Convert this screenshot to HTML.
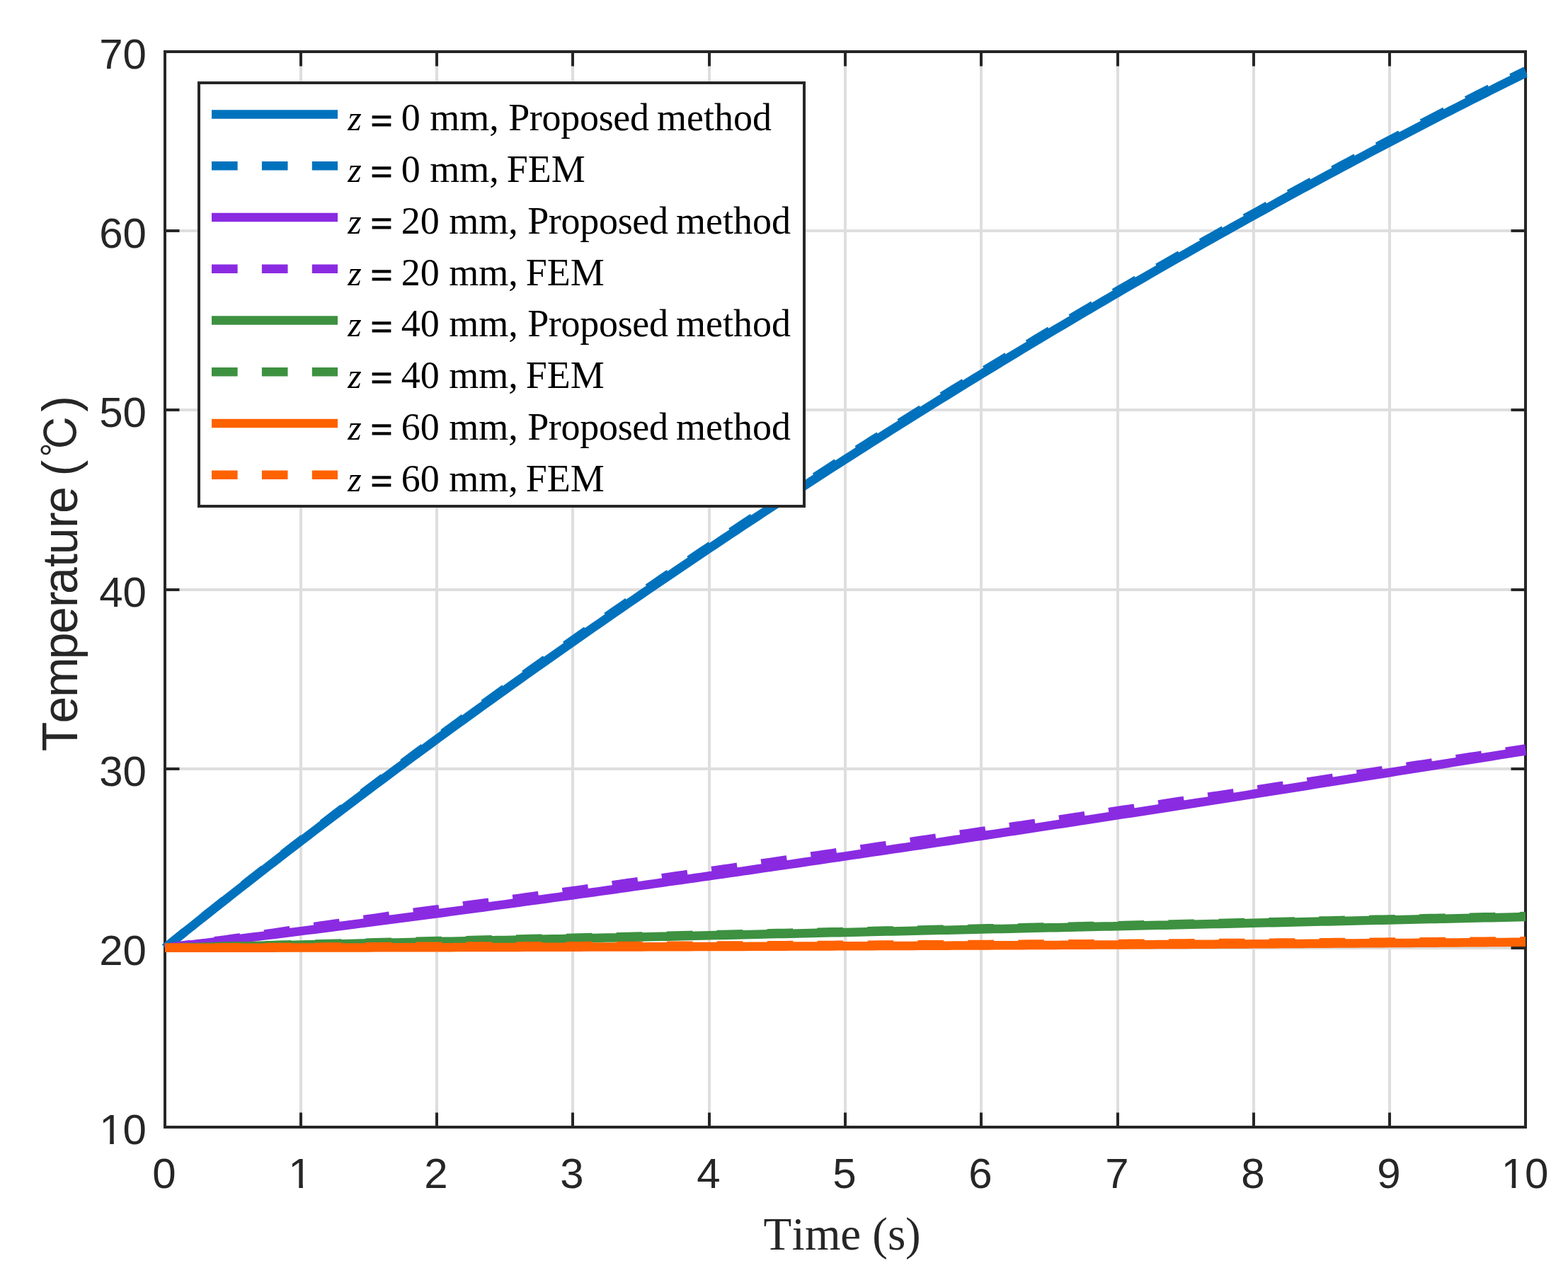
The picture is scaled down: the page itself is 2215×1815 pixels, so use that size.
<!DOCTYPE html>
<html><head><meta charset="utf-8"><title>Temperature vs Time</title>
<style>html,body{margin:0;padding:0;background:#fff;width:2215px;height:1815px;overflow:hidden}</style>
</head><body>
<svg width="2215" height="1815" viewBox="0 0 2215 1815" style="position:absolute;left:0;top:0">
<rect x="0" y="0" width="2215" height="1815" fill="#ffffff"/>
<path d="M425 73.0V1592.0M617 73.0V1592.0M809 73.0V1592.0M1002 73.0V1592.0M1194 73.0V1592.0M1386 73.0V1592.0M1579 73.0V1592.0M1771 73.0V1592.0M1963 73.0V1592.0M233.0 326H2155.0M233.0 579H2155.0M233.0 833H2155.0M233.0 1086H2155.0M233.0 1339H2155.0" stroke="#DEDEDE" stroke-width="4" fill="none"/>
<path d="M425 1592.0v-20.5M425 73.0v20.5M617 1592.0v-20.5M617 73.0v20.5M809 1592.0v-20.5M809 73.0v20.5M1002 1592.0v-20.5M1002 73.0v20.5M1194 1592.0v-20.5M1194 73.0v20.5M1386 1592.0v-20.5M1386 73.0v20.5M1579 1592.0v-20.5M1579 73.0v20.5M1771 1592.0v-20.5M1771 73.0v20.5M1963 1592.0v-20.5M1963 73.0v20.5M233.0 326h20.5M2155.0 326h-20.5M233.0 579h20.5M2155.0 579h-20.5M233.0 833h20.5M2155.0 833h-20.5M233.0 1086h20.5M2155.0 1086h-20.5M233.0 1339h20.5M2155.0 1339h-20.5" stroke="#262626" stroke-width="4" fill="none"/>
<rect x="233.0" y="73.0" width="1922.0" height="1519.0" stroke="#262626" stroke-width="4" fill="none"/>
<path d="M233.00 1338.83 L242.61 1331.11 L252.22 1323.40 L261.83 1315.71 L271.44 1308.05 L281.05 1300.40 L290.66 1292.76 L300.27 1285.15 L309.88 1277.56 L319.49 1269.98 L329.10 1262.43 L338.71 1254.89 L348.32 1247.37 L357.93 1239.87 L367.54 1232.38 L377.15 1224.92 L386.76 1217.47 L396.37 1210.04 L405.98 1202.63 L415.59 1195.24 L425.20 1187.86 L434.81 1180.50 L444.42 1173.15 L454.03 1165.82 L463.64 1158.51 L473.25 1151.21 L482.86 1143.94 L492.47 1136.68 L502.08 1129.43 L511.69 1122.21 L521.30 1115.00 L530.91 1107.81 L540.52 1100.63 L550.13 1093.47 L559.74 1086.33 L569.35 1079.21 L578.96 1072.10 L588.57 1065.01 L598.18 1057.93 L607.79 1050.88 L617.40 1043.83 L627.01 1036.81 L636.62 1029.80 L646.23 1022.80 L655.84 1015.83 L665.45 1008.87 L675.06 1001.92 L684.67 994.99 L694.28 988.08 L703.89 981.18 L713.50 974.30 L723.11 967.44 L732.72 960.59 L742.33 953.75 L751.94 946.94 L761.55 940.13 L771.16 933.35 L780.77 926.57 L790.38 919.82 L799.99 913.08 L809.60 906.35 L819.21 899.62 L828.82 892.91 L838.43 886.22 L848.04 879.53 L857.65 872.87 L867.26 866.22 L876.87 859.58 L886.48 852.96 L896.09 846.35 L905.70 839.76 L915.31 833.19 L924.92 826.62 L934.53 820.08 L944.14 813.55 L953.75 807.03 L963.36 800.53 L972.97 794.04 L982.58 787.56 L992.19 781.11 L1001.80 774.66 L1011.41 768.23 L1021.02 761.82 L1030.63 755.42 L1040.24 749.03 L1049.85 742.66 L1059.46 736.30 L1069.07 729.96 L1078.68 723.63 L1088.29 717.31 L1097.90 711.01 L1107.51 704.73 L1117.12 698.45 L1126.73 692.20 L1136.34 685.95 L1145.95 679.72 L1155.56 673.51 L1165.17 667.31 L1174.78 661.12 L1184.39 654.95 L1194.00 648.79 L1203.61 642.64 L1213.22 636.51 L1222.83 630.40 L1232.44 624.29 L1242.05 618.20 L1251.66 612.13 L1261.27 606.07 L1270.88 600.02 L1280.49 593.98 L1290.10 587.97 L1299.71 581.96 L1309.32 575.97 L1318.93 569.99 L1328.54 564.02 L1338.15 558.07 L1347.76 552.14 L1357.37 546.21 L1366.98 540.30 L1376.59 534.41 L1386.20 528.53 L1395.81 522.66 L1405.42 516.80 L1415.03 510.96 L1424.64 505.14 L1434.25 499.32 L1443.86 493.52 L1453.47 487.74 L1463.08 481.97 L1472.69 476.21 L1482.30 470.46 L1491.91 464.73 L1501.52 459.01 L1511.13 453.31 L1520.74 447.62 L1530.35 441.95 L1539.96 436.28 L1549.57 430.63 L1559.18 425.00 L1568.79 419.38 L1578.40 413.77 L1588.01 408.18 L1597.62 402.60 L1607.23 397.03 L1616.84 391.48 L1626.45 385.94 L1636.06 380.42 L1645.67 374.91 L1655.28 369.41 L1664.89 363.92 L1674.50 358.46 L1684.11 353.00 L1693.72 347.56 L1703.33 342.13 L1712.94 336.72 L1722.55 331.32 L1732.16 325.93 L1741.77 320.56 L1751.38 315.20 L1760.99 309.85 L1770.60 304.52 L1780.21 299.21 L1789.82 293.91 L1799.43 288.62 L1809.04 283.34 L1818.65 278.08 L1828.26 272.84 L1837.87 267.61 L1847.48 262.39 L1857.09 257.18 L1866.70 252.00 L1876.31 246.82 L1885.92 241.66 L1895.53 236.51 L1905.14 231.38 L1914.75 226.26 L1924.36 221.16 L1933.97 216.07 L1943.58 211.00 L1953.19 205.94 L1962.80 200.89 L1972.41 195.86 L1982.02 190.84 L1991.63 185.84 L2001.24 180.86 L2010.85 175.88 L2020.46 170.93 L2030.07 165.98 L2039.68 161.05 L2049.29 156.14 L2058.90 151.24 L2068.51 146.36 L2078.12 141.49 L2087.73 136.64 L2097.34 131.80 L2106.95 126.97 L2116.56 122.17 L2126.17 117.37 L2135.78 112.59 L2145.39 107.83 L2155.00 103.08" stroke="#0072BD" stroke-width="12.5" fill="none" stroke-linejoin="round"/>
<path d="M233.00 1338.83 L242.61 1331.06 L252.22 1323.30 L261.83 1315.56 L271.44 1307.85 L281.05 1300.15 L290.66 1292.46 L300.27 1284.80 L309.88 1277.16 L319.49 1269.53 L329.10 1261.93 L338.71 1254.34 L348.32 1246.77 L357.93 1239.22 L367.54 1231.68 L377.15 1224.17 L386.76 1216.67 L396.37 1209.19 L405.98 1201.73 L415.59 1194.29 L425.20 1186.86 L434.81 1179.46 L444.42 1172.08 L454.03 1164.71 L463.64 1157.36 L473.25 1150.03 L482.86 1142.71 L492.47 1135.41 L502.08 1128.13 L511.69 1120.87 L521.30 1113.62 L530.91 1106.39 L540.52 1099.18 L550.13 1091.99 L559.74 1084.81 L569.35 1077.65 L578.96 1070.50 L588.57 1063.37 L598.18 1056.26 L607.79 1049.16 L617.40 1042.08 L627.01 1035.02 L636.62 1027.97 L646.23 1020.94 L655.84 1013.93 L665.45 1006.93 L675.06 999.95 L684.67 992.98 L694.28 986.03 L703.89 979.10 L713.50 972.18 L723.11 965.27 L732.72 958.39 L742.33 951.52 L751.94 944.66 L761.55 937.82 L771.16 931.00 L780.77 924.19 L790.38 917.39 L799.99 910.61 L809.60 903.85 L819.21 897.12 L828.82 890.41 L838.43 883.71 L848.04 877.02 L857.65 870.35 L867.26 863.70 L876.87 857.06 L886.48 850.43 L896.09 843.82 L905.70 837.23 L915.31 830.65 L924.92 824.08 L934.53 817.53 L944.14 811.00 L953.75 804.47 L963.36 797.97 L972.97 791.48 L982.58 785.00 L992.19 778.54 L1001.80 772.09 L1011.41 765.66 L1021.02 759.24 L1030.63 752.83 L1040.24 746.44 L1049.85 740.07 L1059.46 733.71 L1069.07 727.36 L1078.68 721.03 L1088.29 714.71 L1097.90 708.41 L1107.51 702.12 L1117.12 695.84 L1126.73 689.58 L1136.34 683.33 L1145.95 677.10 L1155.56 670.88 L1165.17 664.68 L1174.78 658.48 L1184.39 652.31 L1194.00 646.15 L1203.61 640.00 L1213.22 633.86 L1222.83 627.74 L1232.44 621.63 L1242.05 615.54 L1251.66 609.46 L1261.27 603.40 L1270.88 597.35 L1280.49 591.31 L1290.10 585.29 L1299.71 579.28 L1309.32 573.28 L1318.93 567.30 L1328.54 561.33 L1338.15 555.38 L1347.76 549.44 L1357.37 543.51 L1366.98 537.60 L1376.59 531.70 L1386.20 525.81 L1395.81 519.94 L1405.42 514.08 L1415.03 508.24 L1424.64 502.41 L1434.25 496.59 L1443.86 490.79 L1453.47 485.00 L1463.08 479.22 L1472.69 473.46 L1482.30 467.71 L1491.91 461.98 L1501.52 456.26 L1511.13 450.55 L1520.74 444.86 L1530.35 439.18 L1539.96 433.51 L1549.57 427.86 L1559.18 422.22 L1568.79 416.60 L1578.40 410.99 L1588.01 405.39 L1597.62 399.81 L1607.23 394.24 L1616.84 388.68 L1626.45 383.14 L1636.06 377.61 L1645.67 372.09 L1655.28 366.59 L1664.89 361.11 L1674.50 355.63 L1684.11 350.17 L1693.72 344.73 L1703.33 339.30 L1712.94 333.88 L1722.55 328.48 L1732.16 323.09 L1741.77 317.71 L1751.38 312.35 L1760.99 307.00 L1770.60 301.67 L1780.21 296.35 L1789.82 291.04 L1799.43 285.75 L1809.04 280.47 L1818.65 275.21 L1828.26 269.96 L1837.87 264.72 L1847.48 259.50 L1857.09 254.30 L1866.70 249.10 L1876.31 243.92 L1885.92 238.76 L1895.53 233.61 L1905.14 228.47 L1914.75 223.35 L1924.36 218.25 L1933.97 213.15 L1943.58 208.08 L1953.19 203.01 L1962.80 197.96 L1972.41 192.93 L1982.02 187.91 L1991.63 182.90 L2001.24 177.91 L2010.85 172.94 L2020.46 167.98 L2030.07 163.03 L2039.68 158.10 L2049.29 153.18 L2058.90 148.28 L2068.51 143.39 L2078.12 138.52 L2087.73 133.66 L2097.34 128.82 L2106.95 123.99 L2116.56 119.18 L2126.17 114.38 L2135.78 109.60 L2145.39 104.83 L2155.00 100.08" stroke="#0072BD" stroke-width="12.5" fill="none" stroke-dasharray="36.6 34.3" stroke-linejoin="round"/>
<path d="M233.00 1338.83 L242.61 1337.68 L252.22 1336.52 L261.83 1335.36 L271.44 1334.19 L281.05 1333.02 L290.66 1331.85 L300.27 1330.67 L309.88 1329.50 L319.49 1328.32 L329.10 1327.13 L338.71 1325.94 L348.32 1324.75 L357.93 1323.56 L367.54 1322.36 L377.15 1321.16 L386.76 1319.96 L396.37 1318.75 L405.98 1317.54 L415.59 1316.33 L425.20 1315.12 L434.81 1313.90 L444.42 1312.68 L454.03 1311.45 L463.64 1310.23 L473.25 1309.00 L482.86 1307.76 L492.47 1306.53 L502.08 1305.29 L511.69 1304.05 L521.30 1302.80 L530.91 1301.56 L540.52 1300.31 L550.13 1299.05 L559.74 1297.80 L569.35 1296.54 L578.96 1295.28 L588.57 1294.01 L598.18 1292.75 L607.79 1291.48 L617.40 1290.21 L627.01 1288.93 L636.62 1287.65 L646.23 1286.37 L655.84 1285.09 L665.45 1283.80 L675.06 1282.52 L684.67 1281.22 L694.28 1279.93 L703.89 1278.63 L713.50 1277.34 L723.11 1276.03 L732.72 1274.73 L742.33 1273.42 L751.94 1272.11 L761.55 1270.80 L771.16 1269.49 L780.77 1268.17 L790.38 1266.85 L799.99 1265.53 L809.60 1264.21 L819.21 1262.88 L828.82 1261.55 L838.43 1260.22 L848.04 1258.88 L857.65 1257.55 L867.26 1256.21 L876.87 1254.87 L886.48 1253.52 L896.09 1252.18 L905.70 1250.83 L915.31 1249.48 L924.92 1248.13 L934.53 1246.77 L944.14 1245.41 L953.75 1244.05 L963.36 1242.69 L972.97 1241.33 L982.58 1239.96 L992.19 1238.59 L1001.80 1237.22 L1011.41 1235.85 L1021.02 1234.47 L1030.63 1233.10 L1040.24 1231.72 L1049.85 1230.33 L1059.46 1228.95 L1069.07 1227.56 L1078.68 1226.18 L1088.29 1224.79 L1097.90 1223.39 L1107.51 1222.00 L1117.12 1220.60 L1126.73 1219.20 L1136.34 1217.80 L1145.95 1216.40 L1155.56 1215.00 L1165.17 1213.59 L1174.78 1212.18 L1184.39 1210.77 L1194.00 1209.36 L1203.61 1207.94 L1213.22 1206.53 L1222.83 1205.11 L1232.44 1203.69 L1242.05 1202.27 L1251.66 1200.84 L1261.27 1199.42 L1270.88 1197.99 L1280.49 1196.56 L1290.10 1195.13 L1299.71 1193.70 L1309.32 1192.26 L1318.93 1190.83 L1328.54 1189.39 L1338.15 1187.95 L1347.76 1186.51 L1357.37 1185.06 L1366.98 1183.62 L1376.59 1182.17 L1386.20 1180.72 L1395.81 1179.27 L1405.42 1177.82 L1415.03 1176.37 L1424.64 1174.91 L1434.25 1173.45 L1443.86 1172.00 L1453.47 1170.54 L1463.08 1169.07 L1472.69 1167.61 L1482.30 1166.15 L1491.91 1164.68 L1501.52 1163.21 L1511.13 1161.74 L1520.74 1160.27 L1530.35 1158.80 L1539.96 1157.33 L1549.57 1155.85 L1559.18 1154.37 L1568.79 1152.90 L1578.40 1151.42 L1588.01 1149.93 L1597.62 1148.45 L1607.23 1146.97 L1616.84 1145.48 L1626.45 1144.00 L1636.06 1142.51 L1645.67 1141.02 L1655.28 1139.53 L1664.89 1138.04 L1674.50 1136.54 L1684.11 1135.05 L1693.72 1133.55 L1703.33 1132.06 L1712.94 1130.56 L1722.55 1129.06 L1732.16 1127.56 L1741.77 1126.06 L1751.38 1124.56 L1760.99 1123.05 L1770.60 1121.55 L1780.21 1120.04 L1789.82 1118.53 L1799.43 1117.02 L1809.04 1115.51 L1818.65 1114.00 L1828.26 1112.49 L1837.87 1110.98 L1847.48 1109.46 L1857.09 1107.95 L1866.70 1106.43 L1876.31 1104.91 L1885.92 1103.40 L1895.53 1101.88 L1905.14 1100.36 L1914.75 1098.84 L1924.36 1097.31 L1933.97 1095.79 L1943.58 1094.27 L1953.19 1092.74 L1962.80 1091.22 L1972.41 1089.69 L1982.02 1088.16 L1991.63 1086.63 L2001.24 1085.10 L2010.85 1083.57 L2020.46 1082.04 L2030.07 1080.51 L2039.68 1078.98 L2049.29 1077.45 L2058.90 1075.91 L2068.51 1074.38 L2078.12 1072.84 L2087.73 1071.31 L2097.34 1069.77 L2106.95 1068.23 L2116.56 1066.69 L2126.17 1065.15 L2135.78 1063.61 L2145.39 1062.07 L2155.00 1060.53" stroke="#8A2BE2" stroke-width="12.5" fill="none" stroke-linejoin="round"/>
<path d="M233.00 1338.83 L242.61 1337.54 L252.22 1336.24 L261.83 1334.94 L271.44 1333.63 L281.05 1332.33 L290.66 1331.02 L300.27 1329.70 L309.88 1328.39 L319.49 1327.07 L329.10 1325.75 L338.71 1324.43 L348.32 1323.10 L357.93 1321.77 L367.54 1320.44 L377.15 1319.06 L386.76 1317.62 L396.37 1316.17 L405.98 1314.72 L415.59 1313.26 L425.20 1311.80 L434.81 1310.34 L444.42 1308.88 L454.03 1307.52 L463.64 1306.17 L473.25 1304.81 L482.86 1303.45 L492.47 1302.09 L502.08 1300.72 L511.69 1299.35 L521.30 1297.96 L530.91 1296.57 L540.52 1295.18 L550.13 1293.78 L559.74 1292.38 L569.35 1290.98 L578.96 1289.58 L588.57 1288.30 L598.18 1287.02 L607.79 1285.74 L617.40 1284.46 L627.01 1283.17 L636.62 1281.88 L646.23 1280.59 L655.84 1279.29 L665.45 1277.99 L675.06 1276.69 L684.67 1275.39 L694.28 1274.08 L703.89 1272.77 L713.50 1271.46 L723.11 1270.15 L732.72 1268.83 L742.33 1267.51 L751.94 1266.19 L761.55 1264.86 L771.16 1263.54 L780.77 1262.21 L790.38 1260.88 L799.99 1259.54 L809.60 1258.21 L819.21 1256.85 L828.82 1255.48 L838.43 1254.12 L848.04 1252.75 L857.65 1251.38 L867.26 1250.01 L876.87 1248.63 L886.48 1247.26 L896.09 1245.88 L905.70 1244.50 L915.31 1243.11 L924.92 1241.73 L934.53 1240.34 L944.14 1238.95 L953.75 1237.55 L963.36 1236.16 L972.97 1234.76 L982.58 1233.36 L992.19 1231.96 L1001.80 1230.56 L1011.41 1229.15 L1021.02 1227.74 L1030.63 1226.33 L1040.24 1224.92 L1049.85 1223.50 L1059.46 1222.08 L1069.07 1220.66 L1078.68 1219.24 L1088.29 1217.82 L1097.90 1216.39 L1107.51 1215.02 L1117.12 1213.64 L1126.73 1212.25 L1136.34 1210.87 L1145.95 1209.48 L1155.56 1208.10 L1165.17 1206.71 L1174.78 1205.32 L1184.39 1203.92 L1194.00 1202.53 L1203.61 1201.13 L1213.22 1199.73 L1222.83 1198.33 L1232.44 1196.92 L1242.05 1195.52 L1251.66 1194.11 L1261.27 1192.70 L1270.88 1191.29 L1280.49 1189.88 L1290.10 1188.46 L1299.71 1187.05 L1309.32 1185.63 L1318.93 1184.21 L1328.54 1182.79 L1338.15 1181.36 L1347.76 1179.94 L1357.37 1178.51 L1366.98 1177.08 L1376.59 1175.65 L1386.20 1174.22 L1395.81 1172.79 L1405.42 1171.35 L1415.03 1169.92 L1424.64 1168.48 L1434.25 1167.04 L1443.86 1165.60 L1453.47 1164.15 L1463.08 1162.71 L1472.69 1161.26 L1482.30 1159.81 L1491.91 1158.36 L1501.52 1156.91 L1511.13 1155.46 L1520.74 1154.00 L1530.35 1152.55 L1539.96 1151.09 L1549.57 1149.63 L1559.18 1148.17 L1568.79 1146.71 L1578.40 1145.25 L1588.01 1143.78 L1597.62 1142.32 L1607.23 1140.85 L1616.84 1139.38 L1626.45 1137.91 L1636.06 1136.44 L1645.67 1134.97 L1655.28 1133.50 L1664.89 1132.02 L1674.50 1130.54 L1684.11 1129.10 L1693.72 1127.65 L1703.33 1126.21 L1712.94 1124.76 L1722.55 1123.31 L1732.16 1121.86 L1741.77 1120.41 L1751.38 1118.96 L1760.99 1117.50 L1770.60 1116.05 L1780.21 1114.59 L1789.82 1113.13 L1799.43 1111.67 L1809.04 1110.21 L1818.65 1108.75 L1828.26 1107.29 L1837.87 1105.83 L1847.48 1104.36 L1857.09 1102.90 L1866.70 1101.43 L1876.31 1099.96 L1885.92 1098.50 L1895.53 1097.03 L1905.14 1095.56 L1914.75 1094.09 L1924.36 1092.61 L1933.97 1091.14 L1943.58 1089.67 L1953.19 1088.19 L1962.80 1086.72 L1972.41 1085.24 L1982.02 1083.76 L1991.63 1082.28 L2001.24 1080.80 L2010.85 1079.32 L2020.46 1077.84 L2030.07 1076.36 L2039.68 1074.88 L2049.29 1073.40 L2058.90 1071.91 L2068.51 1070.48 L2078.12 1069.04 L2087.73 1067.61 L2097.34 1066.17 L2106.95 1064.73 L2116.56 1063.29 L2126.17 1061.85 L2135.78 1060.41 L2145.39 1058.97 L2155.00 1057.53" stroke="#8A2BE2" stroke-width="12.5" fill="none" stroke-dasharray="36.6 34.3" stroke-linejoin="round"/>
<path d="M233.00 1338.83 L242.61 1338.61 L252.22 1338.40 L261.83 1338.18 L271.44 1337.96 L281.05 1337.74 L290.66 1337.52 L300.27 1337.30 L309.88 1337.08 L319.49 1336.86 L329.10 1336.64 L338.71 1336.42 L348.32 1336.21 L357.93 1335.99 L367.54 1335.77 L377.15 1335.55 L386.76 1335.33 L396.37 1335.11 L405.98 1334.89 L415.59 1334.67 L425.20 1334.45 L434.81 1334.23 L444.42 1334.02 L454.03 1333.80 L463.64 1333.58 L473.25 1333.36 L482.86 1333.14 L492.47 1332.92 L502.08 1332.70 L511.69 1332.48 L521.30 1332.26 L530.91 1332.04 L540.52 1331.83 L550.13 1331.61 L559.74 1331.39 L569.35 1331.17 L578.96 1330.95 L588.57 1330.73 L598.18 1330.51 L607.79 1330.29 L617.40 1330.07 L627.01 1329.85 L636.62 1329.64 L646.23 1329.42 L655.84 1329.20 L665.45 1328.98 L675.06 1328.76 L684.67 1328.54 L694.28 1328.32 L703.89 1328.10 L713.50 1327.88 L723.11 1327.66 L732.72 1327.45 L742.33 1327.23 L751.94 1327.01 L761.55 1326.79 L771.16 1326.57 L780.77 1326.35 L790.38 1326.13 L799.99 1325.91 L809.60 1325.69 L819.21 1325.47 L828.82 1325.26 L838.43 1325.04 L848.04 1324.82 L857.65 1324.60 L867.26 1324.38 L876.87 1324.16 L886.48 1323.94 L896.09 1323.72 L905.70 1323.50 L915.31 1323.29 L924.92 1323.07 L934.53 1322.85 L944.14 1322.63 L953.75 1322.41 L963.36 1322.19 L972.97 1321.97 L982.58 1321.75 L992.19 1321.53 L1001.80 1321.31 L1011.41 1321.10 L1021.02 1320.88 L1030.63 1320.66 L1040.24 1320.44 L1049.85 1320.22 L1059.46 1320.00 L1069.07 1319.78 L1078.68 1319.56 L1088.29 1319.34 L1097.90 1319.12 L1107.51 1318.91 L1117.12 1318.69 L1126.73 1318.47 L1136.34 1318.25 L1145.95 1318.03 L1155.56 1317.81 L1165.17 1317.59 L1174.78 1317.37 L1184.39 1317.15 L1194.00 1316.93 L1203.61 1316.72 L1213.22 1316.50 L1222.83 1316.28 L1232.44 1316.06 L1242.05 1315.84 L1251.66 1315.62 L1261.27 1315.40 L1270.88 1315.18 L1280.49 1314.96 L1290.10 1314.74 L1299.71 1314.53 L1309.32 1314.31 L1318.93 1314.09 L1328.54 1313.87 L1338.15 1313.65 L1347.76 1313.43 L1357.37 1313.21 L1366.98 1312.99 L1376.59 1312.77 L1386.20 1312.55 L1395.81 1312.34 L1405.42 1312.12 L1415.03 1311.90 L1424.64 1311.68 L1434.25 1311.46 L1443.86 1311.24 L1453.47 1311.02 L1463.08 1310.80 L1472.69 1310.58 L1482.30 1310.36 L1491.91 1310.15 L1501.52 1309.93 L1511.13 1309.71 L1520.74 1309.49 L1530.35 1309.27 L1539.96 1309.05 L1549.57 1308.83 L1559.18 1308.61 L1568.79 1308.39 L1578.40 1308.17 L1588.01 1307.96 L1597.62 1307.74 L1607.23 1307.52 L1616.84 1307.30 L1626.45 1307.08 L1636.06 1306.86 L1645.67 1306.64 L1655.28 1306.42 L1664.89 1306.20 L1674.50 1305.98 L1684.11 1305.77 L1693.72 1305.55 L1703.33 1305.33 L1712.94 1305.11 L1722.55 1304.89 L1732.16 1304.67 L1741.77 1304.45 L1751.38 1304.23 L1760.99 1304.01 L1770.60 1303.80 L1780.21 1303.58 L1789.82 1303.36 L1799.43 1303.14 L1809.04 1302.92 L1818.65 1302.70 L1828.26 1302.48 L1837.87 1302.26 L1847.48 1302.04 L1857.09 1301.82 L1866.70 1301.61 L1876.31 1301.39 L1885.92 1301.17 L1895.53 1300.95 L1905.14 1300.73 L1914.75 1300.51 L1924.36 1300.29 L1933.97 1300.07 L1943.58 1299.85 L1953.19 1299.63 L1962.80 1299.42 L1972.41 1299.20 L1982.02 1298.98 L1991.63 1298.76 L2001.24 1298.54 L2010.85 1298.32 L2020.46 1298.10 L2030.07 1297.88 L2039.68 1297.66 L2049.29 1297.44 L2058.90 1297.23 L2068.51 1297.01 L2078.12 1296.79 L2087.73 1296.57 L2097.34 1296.35 L2106.95 1296.13 L2116.56 1295.91 L2126.17 1295.69 L2135.78 1295.47 L2145.39 1295.25 L2155.00 1295.04" stroke="#3D9140" stroke-width="12.5" fill="none" stroke-linejoin="round"/>
<path d="M233.00 1338.83 L242.61 1338.59 L252.22 1338.35 L261.83 1338.10 L271.44 1337.86 L281.05 1337.61 L290.66 1337.37 L300.27 1337.13 L309.88 1336.88 L319.49 1336.64 L329.10 1336.39 L338.71 1336.15 L348.32 1335.91 L357.93 1335.66 L367.54 1335.42 L377.15 1335.17 L386.76 1334.93 L396.37 1334.69 L405.98 1334.44 L415.59 1334.20 L425.20 1333.95 L434.81 1333.71 L444.42 1333.47 L454.03 1333.22 L463.64 1332.98 L473.25 1332.73 L482.86 1332.49 L492.47 1332.25 L502.08 1332.00 L511.69 1331.76 L521.30 1331.51 L530.91 1331.27 L540.52 1331.03 L550.13 1330.78 L559.74 1330.54 L569.35 1330.29 L578.96 1330.05 L588.57 1329.81 L598.18 1329.56 L607.79 1329.32 L617.40 1329.07 L627.01 1328.85 L636.62 1328.64 L646.23 1328.42 L655.84 1328.20 L665.45 1327.98 L675.06 1327.76 L684.67 1327.54 L694.28 1327.32 L703.89 1327.10 L713.50 1326.88 L723.11 1326.66 L732.72 1326.45 L742.33 1326.23 L751.94 1326.01 L761.55 1325.79 L771.16 1325.57 L780.77 1325.35 L790.38 1325.13 L799.99 1324.91 L809.60 1324.69 L819.21 1324.47 L828.82 1324.26 L838.43 1324.04 L848.04 1323.82 L857.65 1323.60 L867.26 1323.38 L876.87 1323.16 L886.48 1322.94 L896.09 1322.72 L905.70 1322.50 L915.31 1322.29 L924.92 1322.07 L934.53 1321.85 L944.14 1321.63 L953.75 1321.41 L963.36 1321.19 L972.97 1320.97 L982.58 1320.75 L992.19 1320.53 L1001.80 1320.31 L1011.41 1320.10 L1021.02 1319.88 L1030.63 1319.66 L1040.24 1319.44 L1049.85 1319.22 L1059.46 1319.00 L1069.07 1318.78 L1078.68 1318.56 L1088.29 1318.34 L1097.90 1318.12 L1107.51 1317.91 L1117.12 1317.69 L1126.73 1317.47 L1136.34 1317.25 L1145.95 1317.03 L1155.56 1316.81 L1165.17 1316.59 L1174.78 1316.37 L1184.39 1316.15 L1194.00 1315.93 L1203.61 1315.72 L1213.22 1315.50 L1222.83 1315.28 L1232.44 1315.06 L1242.05 1314.84 L1251.66 1314.62 L1261.27 1314.40 L1270.88 1314.18 L1280.49 1313.96 L1290.10 1313.74 L1299.71 1313.53 L1309.32 1313.31 L1318.93 1313.09 L1328.54 1312.87 L1338.15 1312.65 L1347.76 1312.43 L1357.37 1312.21 L1366.98 1311.99 L1376.59 1311.77 L1386.20 1311.55 L1395.81 1311.34 L1405.42 1311.12 L1415.03 1310.90 L1424.64 1310.68 L1434.25 1310.46 L1443.86 1310.24 L1453.47 1310.02 L1463.08 1309.80 L1472.69 1309.58 L1482.30 1309.36 L1491.91 1309.15 L1501.52 1308.93 L1511.13 1308.71 L1520.74 1308.49 L1530.35 1308.27 L1539.96 1308.05 L1549.57 1307.83 L1559.18 1307.61 L1568.79 1307.39 L1578.40 1307.17 L1588.01 1306.96 L1597.62 1306.74 L1607.23 1306.52 L1616.84 1306.30 L1626.45 1306.08 L1636.06 1305.86 L1645.67 1305.64 L1655.28 1305.42 L1664.89 1305.20 L1674.50 1304.98 L1684.11 1304.77 L1693.72 1304.55 L1703.33 1304.33 L1712.94 1304.11 L1722.55 1303.89 L1732.16 1303.67 L1741.77 1303.45 L1751.38 1303.23 L1760.99 1303.01 L1770.60 1302.80 L1780.21 1302.58 L1789.82 1302.36 L1799.43 1302.14 L1809.04 1301.92 L1818.65 1301.70 L1828.26 1301.48 L1837.87 1301.26 L1847.48 1301.04 L1857.09 1300.82 L1866.70 1300.61 L1876.31 1300.39 L1885.92 1300.17 L1895.53 1299.95 L1905.14 1299.73 L1914.75 1299.51 L1924.36 1299.29 L1933.97 1299.07 L1943.58 1298.85 L1953.19 1298.63 L1962.80 1298.42 L1972.41 1298.20 L1982.02 1297.98 L1991.63 1297.76 L2001.24 1297.54 L2010.85 1297.32 L2020.46 1297.10 L2030.07 1296.88 L2039.68 1296.66 L2049.29 1296.44 L2058.90 1296.23 L2068.51 1296.01 L2078.12 1295.79 L2087.73 1295.57 L2097.34 1295.35 L2106.95 1295.13 L2116.56 1294.91 L2126.17 1294.69 L2135.78 1294.47 L2145.39 1294.25 L2155.00 1294.04" stroke="#3D9140" stroke-width="12.5" fill="none" stroke-dasharray="36.6 34.3" stroke-linejoin="round"/>
<path d="M233.00 1338.83 L242.61 1338.82 L252.22 1338.81 L261.83 1338.80 L271.44 1338.79 L281.05 1338.78 L290.66 1338.77 L300.27 1338.76 L309.88 1338.74 L319.49 1338.73 L329.10 1338.72 L338.71 1338.70 L348.32 1338.69 L357.93 1338.68 L367.54 1338.66 L377.15 1338.65 L386.76 1338.63 L396.37 1338.62 L405.98 1338.60 L415.59 1338.59 L425.20 1338.57 L434.81 1338.55 L444.42 1338.54 L454.03 1338.52 L463.64 1338.50 L473.25 1338.49 L482.86 1338.47 L492.47 1338.45 L502.08 1338.43 L511.69 1338.41 L521.30 1338.39 L530.91 1338.37 L540.52 1338.35 L550.13 1338.33 L559.74 1338.31 L569.35 1338.29 L578.96 1338.27 L588.57 1338.25 L598.18 1338.23 L607.79 1338.21 L617.40 1338.19 L627.01 1338.16 L636.62 1338.14 L646.23 1338.12 L655.84 1338.09 L665.45 1338.07 L675.06 1338.05 L684.67 1338.02 L694.28 1338.00 L703.89 1337.97 L713.50 1337.95 L723.11 1337.92 L732.72 1337.90 L742.33 1337.87 L751.94 1337.84 L761.55 1337.82 L771.16 1337.79 L780.77 1337.76 L790.38 1337.73 L799.99 1337.71 L809.60 1337.68 L819.21 1337.65 L828.82 1337.62 L838.43 1337.59 L848.04 1337.56 L857.65 1337.53 L867.26 1337.50 L876.87 1337.47 L886.48 1337.44 L896.09 1337.41 L905.70 1337.38 L915.31 1337.35 L924.92 1337.32 L934.53 1337.28 L944.14 1337.25 L953.75 1337.22 L963.36 1337.19 L972.97 1337.15 L982.58 1337.12 L992.19 1337.09 L1001.80 1337.05 L1011.41 1337.02 L1021.02 1336.98 L1030.63 1336.95 L1040.24 1336.91 L1049.85 1336.88 L1059.46 1336.84 L1069.07 1336.80 L1078.68 1336.77 L1088.29 1336.73 L1097.90 1336.69 L1107.51 1336.65 L1117.12 1336.62 L1126.73 1336.58 L1136.34 1336.54 L1145.95 1336.50 L1155.56 1336.46 L1165.17 1336.42 L1174.78 1336.38 L1184.39 1336.34 L1194.00 1336.30 L1203.61 1336.26 L1213.22 1336.22 L1222.83 1336.18 L1232.44 1336.14 L1242.05 1336.10 L1251.66 1336.05 L1261.27 1336.01 L1270.88 1335.97 L1280.49 1335.92 L1290.10 1335.88 L1299.71 1335.84 L1309.32 1335.79 L1318.93 1335.75 L1328.54 1335.70 L1338.15 1335.66 L1347.76 1335.61 L1357.37 1335.57 L1366.98 1335.52 L1376.59 1335.48 L1386.20 1335.43 L1395.81 1335.38 L1405.42 1335.34 L1415.03 1335.29 L1424.64 1335.24 L1434.25 1335.19 L1443.86 1335.15 L1453.47 1335.10 L1463.08 1335.05 L1472.69 1335.00 L1482.30 1334.95 L1491.91 1334.90 L1501.52 1334.85 L1511.13 1334.80 L1520.74 1334.75 L1530.35 1334.70 L1539.96 1334.65 L1549.57 1334.59 L1559.18 1334.54 L1568.79 1334.49 L1578.40 1334.44 L1588.01 1334.39 L1597.62 1334.33 L1607.23 1334.28 L1616.84 1334.23 L1626.45 1334.17 L1636.06 1334.12 L1645.67 1334.06 L1655.28 1334.01 L1664.89 1333.95 L1674.50 1333.90 L1684.11 1333.84 L1693.72 1333.78 L1703.33 1333.73 L1712.94 1333.67 L1722.55 1333.61 L1732.16 1333.56 L1741.77 1333.50 L1751.38 1333.44 L1760.99 1333.38 L1770.60 1333.32 L1780.21 1333.27 L1789.82 1333.21 L1799.43 1333.15 L1809.04 1333.09 L1818.65 1333.03 L1828.26 1332.97 L1837.87 1332.91 L1847.48 1332.84 L1857.09 1332.78 L1866.70 1332.72 L1876.31 1332.66 L1885.92 1332.60 L1895.53 1332.54 L1905.14 1332.47 L1914.75 1332.41 L1924.36 1332.35 L1933.97 1332.28 L1943.58 1332.22 L1953.19 1332.15 L1962.80 1332.09 L1972.41 1332.02 L1982.02 1331.96 L1991.63 1331.89 L2001.24 1331.83 L2010.85 1331.76 L2020.46 1331.69 L2030.07 1331.63 L2039.68 1331.56 L2049.29 1331.49 L2058.90 1331.43 L2068.51 1331.36 L2078.12 1331.29 L2087.73 1331.22 L2097.34 1331.15 L2106.95 1331.08 L2116.56 1331.01 L2126.17 1330.94 L2135.78 1330.87 L2145.39 1330.80 L2155.00 1330.73" stroke="#FF6200" stroke-width="12.5" fill="none" stroke-linejoin="round"/>
<path d="M233.00 1338.83 L242.61 1338.79 L252.22 1338.74 L261.83 1338.69 L271.44 1338.64 L281.05 1338.59 L290.66 1338.54 L300.27 1338.49 L309.88 1338.44 L319.49 1338.39 L329.10 1338.34 L338.71 1338.29 L348.32 1338.24 L357.93 1338.19 L367.54 1338.14 L377.15 1338.08 L386.76 1338.03 L396.37 1337.98 L405.98 1337.93 L415.59 1337.87 L425.20 1337.82 L434.81 1337.77 L444.42 1337.71 L454.03 1337.66 L463.64 1337.60 L473.25 1337.55 L482.86 1337.49 L492.47 1337.44 L502.08 1337.38 L511.69 1337.32 L521.30 1337.27 L530.91 1337.21 L540.52 1337.15 L550.13 1337.10 L559.74 1337.04 L569.35 1336.98 L578.96 1336.92 L588.57 1336.86 L598.18 1336.80 L607.79 1336.74 L617.40 1336.69 L627.01 1336.66 L636.62 1336.64 L646.23 1336.62 L655.84 1336.59 L665.45 1336.57 L675.06 1336.55 L684.67 1336.52 L694.28 1336.50 L703.89 1336.47 L713.50 1336.45 L723.11 1336.42 L732.72 1336.40 L742.33 1336.37 L751.94 1336.34 L761.55 1336.32 L771.16 1336.29 L780.77 1336.26 L790.38 1336.23 L799.99 1336.21 L809.60 1336.18 L819.21 1336.15 L828.82 1336.12 L838.43 1336.09 L848.04 1336.06 L857.65 1336.03 L867.26 1336.00 L876.87 1335.97 L886.48 1335.94 L896.09 1335.91 L905.70 1335.88 L915.31 1335.85 L924.92 1335.82 L934.53 1335.78 L944.14 1335.75 L953.75 1335.72 L963.36 1335.69 L972.97 1335.65 L982.58 1335.62 L992.19 1335.59 L1001.80 1335.55 L1011.41 1335.52 L1021.02 1335.48 L1030.63 1335.45 L1040.24 1335.41 L1049.85 1335.38 L1059.46 1335.34 L1069.07 1335.30 L1078.68 1335.27 L1088.29 1335.23 L1097.90 1335.19 L1107.51 1335.15 L1117.12 1335.12 L1126.73 1335.08 L1136.34 1335.04 L1145.95 1335.00 L1155.56 1334.96 L1165.17 1334.92 L1174.78 1334.88 L1184.39 1334.84 L1194.00 1334.80 L1203.61 1334.76 L1213.22 1334.72 L1222.83 1334.68 L1232.44 1334.64 L1242.05 1334.60 L1251.66 1334.55 L1261.27 1334.51 L1270.88 1334.47 L1280.49 1334.42 L1290.10 1334.38 L1299.71 1334.34 L1309.32 1334.29 L1318.93 1334.25 L1328.54 1334.20 L1338.15 1334.16 L1347.76 1334.11 L1357.37 1334.07 L1366.98 1334.02 L1376.59 1333.98 L1386.20 1333.93 L1395.81 1333.88 L1405.42 1333.84 L1415.03 1333.79 L1424.64 1333.74 L1434.25 1333.69 L1443.86 1333.65 L1453.47 1333.60 L1463.08 1333.55 L1472.69 1333.50 L1482.30 1333.45 L1491.91 1333.40 L1501.52 1333.35 L1511.13 1333.30 L1520.74 1333.25 L1530.35 1333.20 L1539.96 1333.15 L1549.57 1333.09 L1559.18 1333.04 L1568.79 1332.99 L1578.40 1332.94 L1588.01 1332.89 L1597.62 1332.83 L1607.23 1332.78 L1616.84 1332.73 L1626.45 1332.67 L1636.06 1332.62 L1645.67 1332.56 L1655.28 1332.51 L1664.89 1332.45 L1674.50 1332.40 L1684.11 1332.34 L1693.72 1332.28 L1703.33 1332.23 L1712.94 1332.17 L1722.55 1332.11 L1732.16 1332.06 L1741.77 1332.00 L1751.38 1331.94 L1760.99 1331.88 L1770.60 1331.82 L1780.21 1331.77 L1789.82 1331.71 L1799.43 1331.65 L1809.04 1331.59 L1818.65 1331.53 L1828.26 1331.47 L1837.87 1331.41 L1847.48 1331.34 L1857.09 1331.28 L1866.70 1331.22 L1876.31 1331.16 L1885.92 1331.10 L1895.53 1331.04 L1905.14 1330.97 L1914.75 1330.91 L1924.36 1330.85 L1933.97 1330.78 L1943.58 1330.72 L1953.19 1330.65 L1962.80 1330.59 L1972.41 1330.52 L1982.02 1330.46 L1991.63 1330.39 L2001.24 1330.33 L2010.85 1330.26 L2020.46 1330.19 L2030.07 1330.13 L2039.68 1330.06 L2049.29 1329.99 L2058.90 1329.93 L2068.51 1329.86 L2078.12 1329.79 L2087.73 1329.72 L2097.34 1329.65 L2106.95 1329.58 L2116.56 1329.51 L2126.17 1329.44 L2135.78 1329.37 L2145.39 1329.30 L2155.00 1329.23" stroke="#FF6200" stroke-width="12.5" fill="none" stroke-dasharray="36.6 34.3" stroke-linejoin="round"/>
<rect x="281" y="117" width="855" height="598" fill="#ffffff" stroke="#262626" stroke-width="4"/>
<path d="M299 161.40H477" stroke="#0072BD" stroke-width="12.5"/>
<text x="488.5" y="184.30" font-family="Liberation Serif, serif" font-size="54" fill="#000"><tspan font-style="italic" font-size="50" dx="2.8">z</tspan><tspan dx="-1.6"> </tspan><tspan dx="1" dy="4.3" stroke="#000" stroke-width="1.6">=</tspan><tspan dx="-1" dy="-4.3"> 0 mm,</tspan><tspan dx="0"> </tspan><tspan letter-spacing="-0.3">Proposed</tspan><tspan dx="-2.2"> method</tspan></text>
<path d="M299 234.17H477" stroke="#0072BD" stroke-width="12.5" stroke-dasharray="36.6 34.3"/>
<text x="488.5" y="257.07" font-family="Liberation Serif, serif" font-size="54" fill="#000"><tspan font-style="italic" font-size="50" dx="2.8">z</tspan><tspan dx="-1.6"> </tspan><tspan dx="1" dy="4.3" stroke="#000" stroke-width="1.6">=</tspan><tspan dx="-1" dy="-4.3"> 0 mm,</tspan><tspan dx="-2.5"> FEM</tspan></text>
<path d="M299 306.94H477" stroke="#8A2BE2" stroke-width="12.5"/>
<text x="488.5" y="329.84" font-family="Liberation Serif, serif" font-size="54" fill="#000"><tspan font-style="italic" font-size="50" dx="2.8">z</tspan><tspan dx="-1.6"> </tspan><tspan dx="1" dy="4.3" stroke="#000" stroke-width="1.6">=</tspan><tspan dx="-1" dy="-4.3"> 20 mm,</tspan><tspan dx="0"> </tspan><tspan letter-spacing="-0.3">Proposed</tspan><tspan dx="-2.2"> method</tspan></text>
<path d="M299 379.71H477" stroke="#8A2BE2" stroke-width="12.5" stroke-dasharray="36.6 34.3"/>
<text x="488.5" y="402.61" font-family="Liberation Serif, serif" font-size="54" fill="#000"><tspan font-style="italic" font-size="50" dx="2.8">z</tspan><tspan dx="-1.6"> </tspan><tspan dx="1" dy="4.3" stroke="#000" stroke-width="1.6">=</tspan><tspan dx="-1" dy="-4.3"> 20 mm,</tspan><tspan dx="-2.5"> FEM</tspan></text>
<path d="M299 452.48H477" stroke="#3D9140" stroke-width="12.5"/>
<text x="488.5" y="475.38" font-family="Liberation Serif, serif" font-size="54" fill="#000"><tspan font-style="italic" font-size="50" dx="2.8">z</tspan><tspan dx="-1.6"> </tspan><tspan dx="1" dy="4.3" stroke="#000" stroke-width="1.6">=</tspan><tspan dx="-1" dy="-4.3"> 40 mm,</tspan><tspan dx="0"> </tspan><tspan letter-spacing="-0.3">Proposed</tspan><tspan dx="-2.2"> method</tspan></text>
<path d="M299 525.25H477" stroke="#3D9140" stroke-width="12.5" stroke-dasharray="36.6 34.3"/>
<text x="488.5" y="548.15" font-family="Liberation Serif, serif" font-size="54" fill="#000"><tspan font-style="italic" font-size="50" dx="2.8">z</tspan><tspan dx="-1.6"> </tspan><tspan dx="1" dy="4.3" stroke="#000" stroke-width="1.6">=</tspan><tspan dx="-1" dy="-4.3"> 40 mm,</tspan><tspan dx="-2.5"> FEM</tspan></text>
<path d="M299 598.02H477" stroke="#FF6200" stroke-width="12.5"/>
<text x="488.5" y="620.92" font-family="Liberation Serif, serif" font-size="54" fill="#000"><tspan font-style="italic" font-size="50" dx="2.8">z</tspan><tspan dx="-1.6"> </tspan><tspan dx="1" dy="4.3" stroke="#000" stroke-width="1.6">=</tspan><tspan dx="-1" dy="-4.3"> 60 mm,</tspan><tspan dx="0"> </tspan><tspan letter-spacing="-0.3">Proposed</tspan><tspan dx="-2.2"> method</tspan></text>
<path d="M299 670.79H477" stroke="#FF6200" stroke-width="12.5" stroke-dasharray="36.6 34.3"/>
<text x="488.5" y="693.69" font-family="Liberation Serif, serif" font-size="54" fill="#000"><tspan font-style="italic" font-size="50" dx="2.8">z</tspan><tspan dx="-1.6"> </tspan><tspan dx="1" dy="4.3" stroke="#000" stroke-width="1.6">=</tspan><tspan dx="-1" dy="-4.3"> 60 mm,</tspan><tspan dx="-2.5"> FEM</tspan></text>
<text x="207" y="1616.0" text-anchor="end" font-family="Liberation Sans, sans-serif" font-size="60" fill="#262626">10</text>
<text x="207" y="1363.0" text-anchor="end" font-family="Liberation Sans, sans-serif" font-size="60" fill="#262626">20</text>
<text x="207" y="1110.0" text-anchor="end" font-family="Liberation Sans, sans-serif" font-size="60" fill="#262626">30</text>
<text x="207" y="857.0" text-anchor="end" font-family="Liberation Sans, sans-serif" font-size="60" fill="#262626">40</text>
<text x="207" y="603.0" text-anchor="end" font-family="Liberation Sans, sans-serif" font-size="60" fill="#262626">50</text>
<text x="207" y="350.0" text-anchor="end" font-family="Liberation Sans, sans-serif" font-size="60" fill="#262626">60</text>
<text x="207" y="97.0" text-anchor="end" font-family="Liberation Sans, sans-serif" font-size="60" fill="#262626">70</text>
<text x="232" y="1678" text-anchor="middle" font-family="Liberation Sans, sans-serif" font-size="60" fill="#262626">0</text>
<text x="424" y="1678" text-anchor="middle" font-family="Liberation Sans, sans-serif" font-size="60" fill="#262626">1</text>
<text x="616" y="1678" text-anchor="middle" font-family="Liberation Sans, sans-serif" font-size="60" fill="#262626">2</text>
<text x="808" y="1678" text-anchor="middle" font-family="Liberation Sans, sans-serif" font-size="60" fill="#262626">3</text>
<text x="1001" y="1678" text-anchor="middle" font-family="Liberation Sans, sans-serif" font-size="60" fill="#262626">4</text>
<text x="1193" y="1678" text-anchor="middle" font-family="Liberation Sans, sans-serif" font-size="60" fill="#262626">5</text>
<text x="1385" y="1678" text-anchor="middle" font-family="Liberation Sans, sans-serif" font-size="60" fill="#262626">6</text>
<text x="1578" y="1678" text-anchor="middle" font-family="Liberation Sans, sans-serif" font-size="60" fill="#262626">7</text>
<text x="1770" y="1678" text-anchor="middle" font-family="Liberation Sans, sans-serif" font-size="60" fill="#262626">8</text>
<text x="1962" y="1678" text-anchor="middle" font-family="Liberation Sans, sans-serif" font-size="60" fill="#262626">9</text>
<text x="2154" y="1678" text-anchor="middle" font-family="Liberation Sans, sans-serif" font-size="60" fill="#262626">10</text>
<rect x="143.33" y="1610.82" width="11.87" height="6.08" fill="#fff"/><rect x="160.80" y="1610.82" width="11.40" height="6.08" fill="#fff"/>
<rect x="410.39" y="1672.82" width="11.87" height="6.08" fill="#fff"/><rect x="427.86" y="1672.82" width="11.40" height="6.08" fill="#fff"/>
<rect x="2123.70" y="1672.82" width="11.87" height="6.08" fill="#fff"/><rect x="2141.17" y="1672.82" width="11.40" height="6.08" fill="#fff"/>
<text x="1078.5 1118.7 1137.0 1187.2 1216.1 1232.2 1253.9 1279.0" y="1765" font-family="Liberation Serif, serif" font-size="65" font-kerning="none" fill="#262626">Time (s)</text>
<text transform="translate(109 811) rotate(-90) scale(1 1.04)" x="-250.3 -210.6 -174.1 -120.2 -84.1 -47.1 -28.0 10.0 27.7 65.0 85.9 123.7 138.5 165.5 229.2" y="0" font-family="Liberation Sans, sans-serif" font-size="68" font-kerning="none" fill="#262626">Temperature (<tspan font-family="IPAGothic, sans-serif" font-size="61" dy="1">℃</tspan><tspan dy="-1">)</tspan></text>
</svg>
</body></html>
